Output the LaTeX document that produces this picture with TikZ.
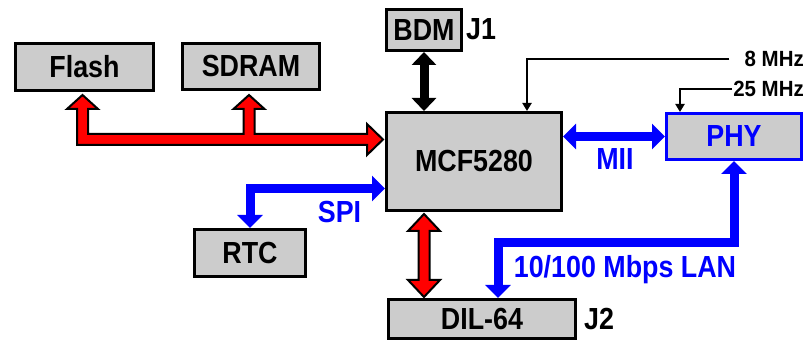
\documentclass[tikz,border=0pt]{standalone}
\usepackage{fontspec}
\newfontfamily\lblfam{Liberation Sans}[FakeStretch=0.88]
\newfontfamily\clkfam{Liberation Sans}[FakeStretch=0.93]
\usetikzlibrary{arrows.meta,calc}
\definecolor{boxgray}{RGB}{204,204,204}
\definecolor{pureblue}{RGB}{0,0,255}
\definecolor{purered}{RGB}{255,0,0}
\newcommand\BigLbl{\lblfam\bfseries\fontsize{30.5}{36}\selectfont}
\newcommand\ClkLbl{\clkfam\bfseries\fontsize{22}{26}\selectfont}
\begin{document}
\begin{tikzpicture}[x=1pt,y=-1pt,
  box/.style={draw=black, fill=boxgray, line width=3pt, inner sep=0pt, font=\BigLbl, text=black},
  bluebox/.style={box, draw=pureblue, text=pureblue},
  lbl/.style={inner sep=0pt, font=\BigLbl, text=black},
  bluelbl/.style={inner sep=0pt, font=\BigLbl, text=pureblue},
  clklbl/.style={inner sep=0pt, font=\ClkLbl, text=black},
  blkarrow/.style={draw=black, line width=9pt, {Triangle[width=24pt,length=13pt]}-{Triangle[width=24pt,length=13pt]}},
  bluearrow/.style={draw=pureblue, line width=9pt, line join=miter, {Triangle[width=25pt,length=13pt]}-{Triangle[width=25pt,length=13pt]}},
  redarrow/.style={fill=purered, draw=black, line width=2pt, line join=miter},
  clk/.style={draw=black, line width=2pt, line join=miter, -{Triangle[width=9pt,length=8pt]}}
]
\useasboundingbox (0,0) rectangle (807,342);

% boxes
\node[box, minimum width=138pt, minimum height=47pt] (flash) at (84.5,67) {Flash};
\node[box, minimum width=137pt, minimum height=46pt] (sdram) at (251,66.5) {SDRAM};
\node[box, minimum width=75pt, minimum height=41pt] (bdm) at (424,30) {BDM};
\node[box, minimum width=175pt, minimum height=98pt] (mcf) at (474,161.5) {MCF5280};
\node[bluebox, minimum width=135pt, minimum height=46pt] (phy) at (734,136.5) {PHY};
\node[box, minimum width=111pt, minimum height=47pt] (rtc) at (250,253) {RTC};
\node[box, minimum width=187pt, minimum height=39pt] (dil) at (482,319) {DIL-64};

% labels
\node[lbl, anchor=base west] (j1) at (466,40) {J1};
\node[lbl, anchor=base west] (j2) at (584,329) {J2};
\node[bluelbl, anchor=base] (mii) at (615,170) {MII};
\node[bluelbl, anchor=base] (spi) at (339.5,223) {SPI};
\node[bluelbl, anchor=base] (lan) at (625,278) {10/100 Mbps LAN};
\node[clklbl, anchor=base east] (f8) at (804,67) {8 MHz};
\node[clklbl, anchor=base east] (f25) at (804,97) {25 MHz};

% red bus Flash/SDRAM -> MCF
\coordinate (ft) at ($(flash.south)+(-2,3)$);
\coordinate (st) at ($(sdram.south)+(-2,4)$);
\coordinate (mt) at ($(mcf.north west)+(-2,28.5)$);
\draw[redarrow] (ft) -- ++(15.5,14) -- ++(-10,0) |- ($(st)+(-5.5,39)$)
  -- ++(0,-25) -- ++(-10,0) -- (st) -- ++(15.5,14) -- ++(-10,0)
  |- ($(mt)+(-16,-5.5)$) -- ++(0,-10) -- (mt) -- ++(-16,15.5) -- ++(0,-10)
  -| ($(ft)+(-5.5,14)$) -- ++(-10,0) -- cycle;

% red MCF <-> DIL-64
\coordinate (t1) at ($(mcf.south west)+(39,2)$);
\coordinate (t2) at ($(dil.north west)+(37,-1)$);
\draw[redarrow] (t1) -- ++(16,17) -- ++(-10.5,0) -- ($(t2)+(5.5,-17)$) -- ++(10.5,0)
  -- (t2) -- ++(-16,-17) -- ++(10.5,0) -- ($(t1)+(-5.5,17)$) -- ++(-10.5,0) -- cycle;

% black BDM <-> MCF
\draw[blkarrow] (bdm.south) -- (bdm.south |- mcf.north);

% blue connectors
\draw[bluearrow] (phy.west -| mcf.east) -- (phy.west);
\coordinate (spiin) at ($(mcf.south west)+(0,-23.5)$);
\draw[bluearrow] (spiin) -| (rtc.north);
\coordinate (lanc) at ($(dil.north west)+(111,-55.5)$);
\draw[bluearrow] (phy.south) |- (lanc) -- (lanc |- dil.north);

% clocks
\draw[clk] ($(f8.west)+(-15,0)$) -| ($(mcf.north west)+(142,0)$);
\draw[clk] ($(f25.west)+(-1,0)$) -| ($(phy.north west)+(15,0)$);
\end{tikzpicture}
\end{document}
